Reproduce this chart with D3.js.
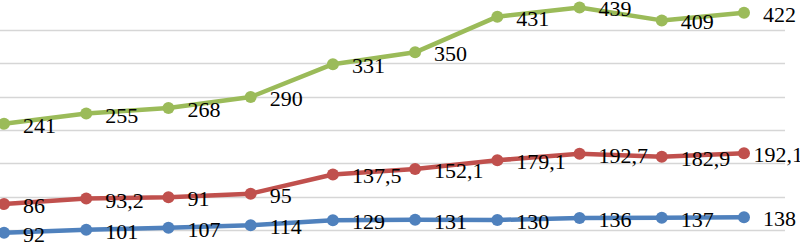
<!DOCTYPE html>
<html>
<head>
<meta charset="utf-8">
<script src="https://cdn.jsdelivr.net/npm/d3@7/dist/d3.min.js"></script>
</head>
<body style="margin:0;background:#fff">
<div id="chart"></div>
<script>
// stacked line chart, cropped: bottom series first
const PERIODS = [1, 2, 3, 4, 5, 6, 7, 8, 9, 10];
const BLUE  = [92, 101, 107, 114, 129, 131, 130, 136, 137, 138];
const RED   = [86, 93.2, 91, 95, 137.5, 152.1, 179.1, 192.7, 182.9, 192.1];
const GREEN = [241, 255, 268, 290, 331, 350, 431, 439, 409, 422];
const GRID  = [100, 200, 300, 400, 500, 600, 700];

const SERIES = [
  { key: 'blue',  values: BLUE,  color: '#4F81BD' },
  { key: 'red',   values: RED,   color: '#C0504D' },
  { key: 'green', values: GREEN, color: '#9BBB59' },
];

const W = 800, H = 242;

const rows = PERIODS.map((p, i) => {
  const r = { p };
  SERIES.forEach(s => { r[s.key] = s.values[i]; });
  return r;
});
const stacked = d3.stack().keys(SERIES.map(s => s.key))(rows);

const x = d3.scalePoint().domain(PERIODS).range([4, 744]);
const y = d3.scaleLinear().domain([0, 800]).range([263.3, -3.3]);

const svg = d3.select('#chart').append('svg')
  .attr('width', W).attr('height', H)
  .style('display', 'block');

// horizontal gridlines
svg.append('g')
  .selectAll('line')
  .data(GRID)
  .join('line')
  .attr('x1', 0).attr('x2', 785)
  .attr('y1', d => Math.round(y(d)) + 0.5).attr('y2', d => Math.round(y(d)) + 0.5)
  .attr('stroke', '#d6d6d6').attr('stroke-width', 1.5);

const line = d3.line()
  .x(d => x(d.data.p))
  .y(d => y(d[1]));

const fmt = v => String(v).replace('.', ',');

stacked.forEach((layer, si) => {
  const s = SERIES[si];
  const g = svg.append('g');
  g.append('path')
    .attr('d', line(layer))
    .attr('fill', 'none')
    .attr('stroke', s.color)
    .attr('stroke-width', 4.5)
    .attr('stroke-linejoin', 'round');
  g.selectAll('circle')
    .data(layer)
    .join('circle')
    .attr('cx', d => x(d.data.p))
    .attr('cy', d => y(d[1]))
    .attr('r', 6)
    .attr('fill', s.color);
});

// labels on top of everything; pulled left when they would run off the plate
stacked.forEach((layer, si) => {
  const s = SERIES[si];
  svg.append('g')
    .attr('font-family', 'Liberation Serif')
    .attr('font-size', 22)
    .selectAll('text')
    .data(layer)
    .join('text')
    .attr('fill', '#000')
    .attr('y', d => y(d[1]) + 9)
    .text(d => fmt(d.data[s.key]))
    .attr('x', function (d) {
      const w = this.getComputedTextLength();
      return Math.min(x(d.data.p) + 19, W + 3 - w);
    });
});
</script>
</body>
</html>
